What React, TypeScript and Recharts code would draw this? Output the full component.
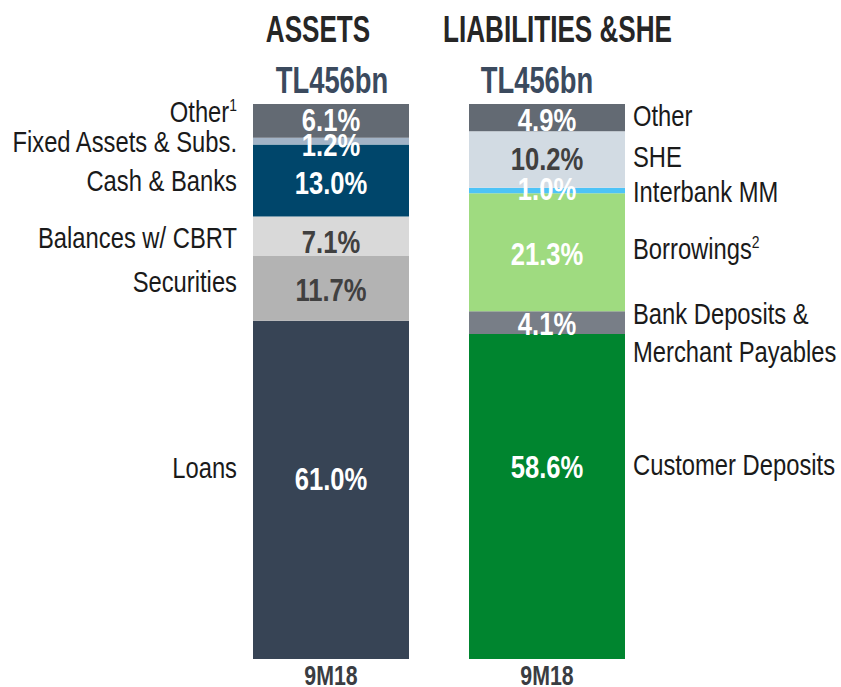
import React from 'react';
import { BarChart, Bar, XAxis, YAxis, LabelList } from 'recharts';

// ---------- data ----------
const period = '9M18';
const columnTitles = ['ASSETS', 'LIABILITIES &SHE'];
const columnTotals = ['TL456bn', 'TL456bn'];

// bottom -> top
const assetCategories = ['Loans', 'Securities', 'Balances w/ CBRT', 'Cash & Banks', 'Fixed Assets & Subs.', 'Other'];
const assetNotes = ['', '', '', '', '', '1'];
const assetValues = [61.0, 11.7, 7.1, 13.0, 1.2, 6.1];

const liabilityCategories = ['Customer Deposits', 'Bank Deposits &\nMerchant Payables', 'Borrowings', 'Interbank MM', 'SHE', 'Other'];
const liabilityNotes = ['', '', '2', '', '', ''];
const liabilityValues = [58.6, 4.1, 21.3, 1.0, 10.2, 4.9];

// ---------- styles ----------
const FONT = "'Liberation Sans', Arial, sans-serif";
const VALUE_FS = 32;
const VALUE_SX = 0.8;
const SIDE_FS = 29;
const SIDE_SX = 0.82;
const LINE_GAP = 38.5;
const CAP = 0.358;

const assetColors = ['#374455', '#b3b3b3', '#d9d9d9', '#00466b', '#a2b3c6', '#636a73'];
const assetValueColors = ['#ffffff', '#404040', '#404040', '#ffffff', '#ffffff', '#ffffff'];
const assetValueDy = [-11, 1, 5, 2.5, 3, -1.5];
const assetSideDy = [-22, -7, 1, 0, 0, -9];

const liabilityColors = ['#00852f', '#787e87', '#9fdb80', '#4dc3f7', '#d2dbe3', '#636a73'];
const liabilityValueColors = ['#ffffff', '#ffffff', '#ffffff', '#ffffff', '#404040', '#ffffff'];
const liabilityValueDy = [-30, 1, 1, -2, -1, 2];
const liabilitySideDy = [-32, 10, -4, 1, -3, -2];

// ---------- table ----------
const rows = [
  (() => {
    const r: any = { key: 'assets', period };
    assetValues.forEach((v, i) => (r[`a${i}`] = v));
    liabilityValues.forEach((_, i) => (r[`l${i}`] = 0));
    return r;
  })(),
  (() => {
    const r: any = { key: 'liabilities', period };
    assetValues.forEach((_, i) => (r[`a${i}`] = 0));
    liabilityValues.forEach((v, i) => (r[`l${i}`] = v));
    return r;
  })(),
];

const T = (p: {
  x: number;
  capY: number;
  fs: number;
  sx: number;
  anchor: 'start' | 'middle' | 'end';
  fill: string;
  bold?: boolean;
  children: React.ReactNode;
}) => (
  <text
    transform={`translate(${p.x},${p.capY + CAP * p.fs}) scale(${p.sx},1)`}
    textAnchor={p.anchor}
    fill={p.fill}
    fontFamily={FONT}
    fontWeight={p.bold ? 'bold' : 'normal'}
    fontSize={p.fs}
  >
    {p.children}
  </text>
);

const makeLabel =
  (text: string, note: string, valueColor: string, valueDy: number, sideDy: number, side: 'left' | 'right') =>
  (props: any) => {
    const { x, y, width, height, value } = props;
    if (!value) return null;
    const nx = Number(x), ny = Number(y), nw = Number(width), nh = Number(height);
    const cx = nx + nw / 2;
    const cy = ny + nh / 2;
    const lines = text.split('\n');
    const sideX = side === 'left' ? nx - 16 : nx + nw + 8;
    const firstCap = cy + sideDy - ((lines.length - 1) * LINE_GAP) / 2;
    return (
      <g>
        <T x={cx} capY={cy + valueDy} fs={VALUE_FS} sx={VALUE_SX} anchor="middle" fill={valueColor} bold>
          {Number(value).toFixed(1)}%
        </T>
        {lines.map((ln, k) => (
          <T
            key={k}
            x={sideX}
            capY={firstCap + k * LINE_GAP}
            fs={SIDE_FS}
            sx={SIDE_SX}
            anchor={side === 'left' ? 'end' : 'start'}
            fill="#1a1a1a"
          >
            {ln}
            {k === lines.length - 1 && note ? (
              <tspan dy={-11} fontSize={17}>
                {note}
              </tspan>
            ) : null}
          </T>
        ))}
      </g>
    );
  };

const PeriodTick = (props: any) => {
  const { x, payload } = props;
  const row = rows[payload.index];
  return (
    <T x={x} capY={675} fs={27} sx={0.79} anchor="middle" fill="#3a3d42" bold>
      {row ? row.period : period}
    </T>
  );
};

export default function App() {
  return (
    <div style={{ position: 'absolute', left: 0, top: 0, width: 841, height: 687, background: '#fff' }}>
      <BarChart
        width={841}
        height={687}
        data={rows}
        margin={{ top: 104, right: 186, bottom: 0, left: 223 }}
        barSize={156}
      >
        <XAxis dataKey="key" axisLine={false} tickLine={false} height={28} tick={<PeriodTick />} interval={0} />
        <YAxis hide domain={[0, 100.1]} />
        {assetValues.map((_, i) => (
          <Bar key={`a${i}`} dataKey={`a${i}`} stackId="s" fill={assetColors[i]} isAnimationActive={false}>
            <LabelList
              dataKey={`a${i}`}
              content={makeLabel(assetCategories[i], assetNotes[i], assetValueColors[i], assetValueDy[i], assetSideDy[i], 'left')}
            />
          </Bar>
        ))}
        {liabilityValues.map((_, i) => (
          <Bar key={`l${i}`} dataKey={`l${i}`} stackId="s" fill={liabilityColors[i]} isAnimationActive={false}>
            <LabelList
              dataKey={`l${i}`}
              content={makeLabel(
                liabilityCategories[i],
                liabilityNotes[i],
                liabilityValueColors[i],
                liabilityValueDy[i],
                liabilitySideDy[i],
                'right'
              )}
            />
          </Bar>
        ))}
      </BarChart>
      <svg width={841} height={100} style={{ position: 'absolute', left: 0, top: 0, pointerEvents: 'none' }}>
        <T x={318} capY={28.3} fs={37} sx={0.705} anchor="middle" fill="#262626" bold>
          {columnTitles[0]}
        </T>
        <T x={557.5} capY={28.3} fs={37} sx={0.705} anchor="middle" fill="#262626" bold>
          {columnTitles[1]}
        </T>
        <T x={332} capY={80} fs={37} sx={0.74} anchor="middle" fill="#3b4a5e" bold>
          {columnTotals[0]}
        </T>
        <T x={537} capY={80} fs={37} sx={0.74} anchor="middle" fill="#3b4a5e" bold>
          {columnTotals[1]}
        </T>
      </svg>
    </div>
  );
}
